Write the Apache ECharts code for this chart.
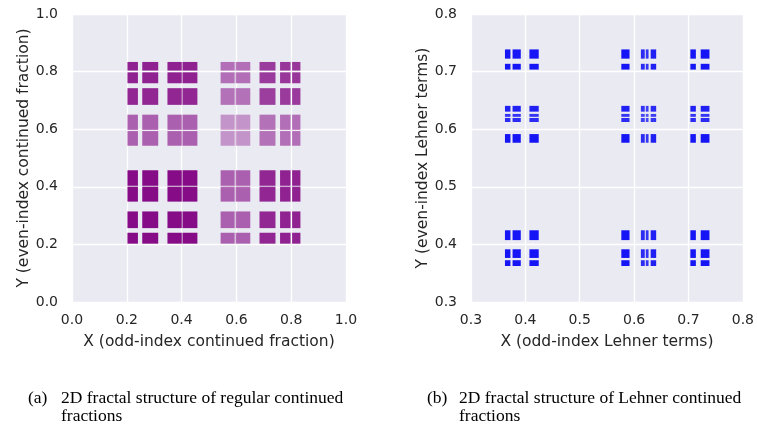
<!DOCTYPE html>
<html>
<head>
<meta charset="utf-8">
<script src="https://cdn.jsdelivr.net/npm/echarts@6/dist/echarts.min.js"></script>
<style>
html,body{margin:0;padding:0;background:#fff;}
#c{width:757px;height:432px;}
</style>
</head>
<body>
<div id="c"></div>
<script>
// Regular continued fractions: visible band edges (same on both axes)
const rcfBandLo = [0.206, 0.260, 0.352, 0.407, 0.546, 0.601, 0.688, 0.763, 0.807];
const rcfBandHi = [0.237, 0.311, 0.397, 0.454, 0.590, 0.647, 0.739, 0.794, 0.830];
// relative point density per band (sparser towards the a=1 sub-bands)
const rcfBandDensity = [1, 1, 1, 1, 0.62, 0.62, 0.88, 0.9, 0.9];

// Lehner continued fractions: band edges (same on both axes)
const lehBandLo = [0.363, 0.377, 0.408, 0.577, 0.613, 0.622, 0.631, 0.704, 0.723];
const lehBandHi = [0.372, 0.391, 0.424, 0.591, 0.619, 0.626, 0.640, 0.713, 0.738];
const lehBandDensity = [1, 1, 1, 1, 0.9, 0.85, 0.95, 1, 1];

// tick labels
const rcfTicks = ['0.0', '0.2', '0.4', '0.6', '0.8', '1.0'];
const lehTicks = ['0.3', '0.4', '0.5', '0.6', '0.7', '0.8'];

const xNameA = 'X (odd-index continued fraction)';
const yNameA = 'Y (even-index continued fraction)';
const xNameB = 'X (odd-index Lehner terms)';
const yNameB = 'Y (even-index Lehner terms)';
const captionA = ['(a)', '2D fractal structure of regular continued', 'fractions'];
const captionB = ['(b)', '2D fractal structure of Lehner continued', 'fractions'];

function buildBlocks(lo, hi, dens) {
  const out = [];
  for (let i = 0; i < lo.length; i++) {
    for (let j = 0; j < lo.length; j++) {
      out.push([lo[i], hi[i], lo[j], hi[j], Math.min(1, dens[i] * dens[j])]);
    }
  }
  return out;
}

const rcfBlocks = buildBlocks(rcfBandLo, rcfBandHi, rcfBandDensity);
const lehBlocks = buildBlocks(lehBandLo, lehBandHi, lehBandDensity);

function makeRender(color, pad) {
  return function (params, api) {
    const p0 = api.coord([api.value(0), api.value(3)]);
    const p1 = api.coord([api.value(1), api.value(2)]);
    return {
      type: 'rect',
      shape: {
        x: p0[0] - pad, y: p0[1] - pad,
        width: p1[0] - p0[0] + 2 * pad,
        height: p1[1] - p0[1] + 2 * pad
      },
      style: { fill: color, opacity: api.value(4) * 0.95 }
    };
  };
}

const FONT = 'DejaVu Sans';
const TXT = '#262626';

function fmt(min, max, ticks) {
  return function (v) {
    const k = Math.round((v - min) / ((max - min) / (ticks.length - 1)));
    return ticks[k];
  };
}

function xAxis(idx, min, max, step, name, ticks) {
  return {
    gridIndex: idx, type: 'value', min: min, max: max, interval: step,
    name: name, nameLocation: 'middle', nameGap: 32,
    nameTextStyle: { fontFamily: FONT, fontSize: 15.5, color: TXT },
    axisLine: { show: false }, axisTick: { show: false },
    axisLabel: { margin: 11, fontFamily: FONT, fontSize: 14, color: TXT, formatter: fmt(min, max, ticks) },
    splitLine: { show: true, lineStyle: { color: '#ffffff', width: 1.3 } }
  };
}
function yAxis(idx, min, max, step, name, ticks) {
  return {
    gridIndex: idx, type: 'value', min: min, max: max, interval: step,
    name: name, nameLocation: 'middle', nameGap: 40,
    nameTextStyle: { fontFamily: FONT, fontSize: 15.5, color: TXT },
    axisLine: { show: false }, axisTick: { show: false },
    axisLabel: { margin: 14, fontFamily: FONT, fontSize: 14, color: TXT, formatter: fmt(min, max, ticks) },
    splitLine: { show: true, lineStyle: { color: '#ffffff', width: 1.3 } }
  };
}

function captionGraphics(cap, xParen, xText) {
  const st = { fontFamily: 'Liberation Serif', fontSize: 17.5, fill: '#000' };
  return [
    { type: 'text', left: xParen, top: 389, style: Object.assign({ text: cap[0] }, st) },
    { type: 'text', left: xText, top: 389, style: Object.assign({ text: cap[1] }, st) },
    { type: 'text', left: xText, top: 407, style: Object.assign({ text: cap[2] }, st) }
  ];
}

const chart = echarts.init(document.getElementById('c'), null, { renderer: 'canvas' });
chart.setOption({
  animation: false,
  grid: [
    { left: 72, width: 274, top: 14, height: 288, show: true, backgroundColor: '#EAEAF2', borderWidth: 0 },
    { left: 471, width: 273, top: 14, height: 288, show: true, backgroundColor: '#EAEAF2', borderWidth: 0 }
  ],
  xAxis: [xAxis(0, 0, 1, 0.2, xNameA, rcfTicks), xAxis(1, 0.3, 0.8, 0.1, xNameB, lehTicks)],
  yAxis: [yAxis(0, 0, 1, 0.2, yNameA, rcfTicks), yAxis(1, 0.3, 0.8, 0.1, yNameB, lehTicks)],
  series: [
    {
      type: 'custom', xAxisIndex: 0, yAxisIndex: 0,
      renderItem: makeRender('#800080', 1),
      encode: { x: [0, 1], y: [2, 3] },
      data: rcfBlocks, clip: true
    },
    {
      type: 'custom', xAxisIndex: 1, yAxisIndex: 1,
      renderItem: makeRender('#0a0af5', 0.3),
      encode: { x: [0, 1], y: [2, 3] },
      data: lehBlocks, clip: true
    }
  ],
  graphic: captionGraphics(captionA, 28, 61).concat(captionGraphics(captionB, 427, 459))
});
</script>
</body>
</html>
